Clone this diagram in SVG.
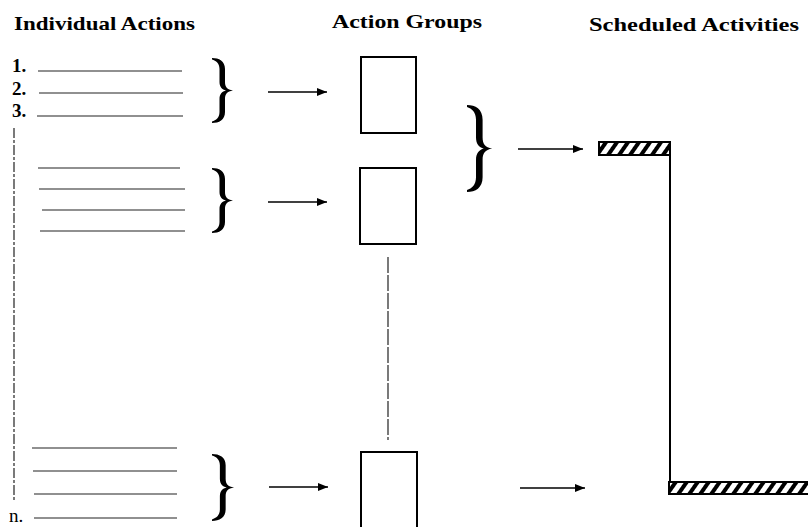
<svg xmlns="http://www.w3.org/2000/svg" width="808" height="527" viewBox="0 0 808 527">
<style>
.title{font-family:"Liberation Serif","Times New Roman",serif;font-weight:bold;font-size:19px;fill:#000}
.num{font-family:"Liberation Serif","Times New Roman",serif;font-size:19px;fill:#000}
.item{stroke:#222;stroke-width:1.1;fill:none}
.box{fill:#fff;stroke:#000;stroke-width:2}
.brace{fill:#000}
.arrow{stroke:#000;stroke-width:1.5;fill:none;marker-end:url(#ah)}
.guide{stroke:#222;stroke-width:1.2;fill:none;stroke-dasharray:10 2 3 2}
.guide2{stroke:#222;stroke-width:1.2;fill:none;stroke-dasharray:16 2}
.bar{fill:url(#hatch);stroke:#000;stroke-width:2}
.post{stroke:#000;stroke-width:2;fill:none}
</style>
<defs>
<marker id="ah" viewBox="0 0 10 8" refX="10" refY="4" markerWidth="10" markerHeight="8" markerUnits="userSpaceOnUse" orient="auto">
<path d="M0,0 L10,4 L0,8 Z" fill="#000"/>
</marker>
<pattern id="hatch" width="9" height="9" patternUnits="userSpaceOnUse" patternTransform="rotate(35)">
<rect width="9" height="9" fill="#fff"/>
<rect width="4" height="9" fill="#000"/>
</pattern>
<path id="br" d="M0,0 C7,0 13,3 13,11 L13,24 C13,29 15,31.5 21,32.5 C15,33.5 13,36 13,41 L13,54 C13,62 7,65 0,65 L0,63.5 C4,62.5 7.5,59.5 7.5,54 L7.5,41 C7.5,36 10,33.5 14,32.5 C10,31.5 7.5,29 7.5,24 L7.5,11 C7.5,5.5 4,2.5 0,1.5 Z"/>
</defs>
<rect width="808" height="527" fill="#fff"/>

<g id="headers">
<text class="title" x="14" y="30" textLength="181" lengthAdjust="spacingAndGlyphs">Individual Actions</text>
<text class="title" x="332" y="28" textLength="150" lengthAdjust="spacingAndGlyphs">Action Groups</text>
<text class="title" x="589" y="31" textLength="210" lengthAdjust="spacingAndGlyphs">Scheduled Activities</text>
</g>

<g id="actions-1">
<text class="num" x="12" y="72" font-weight="bold">1.</text>
<text class="num" x="12" y="95" font-weight="bold">2.</text>
<text class="num" x="12" y="117" font-weight="bold">3.</text>
<line class="item" x1="38" y1="71" x2="182" y2="71"/>
<line class="item" x1="39" y1="93" x2="183" y2="93"/>
<line class="item" x1="37" y1="116" x2="183" y2="116"/>
</g>

<g id="actions-2">
<line class="item" x1="38" y1="168" x2="180" y2="168"/>
<line class="item" x1="39" y1="189" x2="185" y2="189"/>
<line class="item" x1="42" y1="210" x2="185" y2="210"/>
<line class="item" x1="40" y1="231" x2="185" y2="231"/>
</g>

<g id="actions-n">
<line class="item" x1="32" y1="448" x2="177" y2="448"/>
<line class="item" x1="33" y1="471" x2="177" y2="471"/>
<line class="item" x1="34" y1="494" x2="177" y2="494"/>
<line class="item" x1="34" y1="518" x2="177" y2="518"/>
<text class="num" x="9" y="522">n.</text>
</g>

<g id="brace-1"><use href="#br" class="brace" transform="translate(212,58)"/></g>
<g id="brace-2"><use href="#br" class="brace" transform="translate(212,168)"/></g>
<g id="brace-n"><use href="#br" class="brace" transform="translate(212,454) scale(1.05,1.03)"/></g>
<g id="brace-groups"><use href="#br" class="brace" transform="translate(467,105) scale(1.2,1.34)"/></g>

<g id="group-1"><rect class="box" x="361" y="57" width="55" height="76"/></g>
<g id="group-2"><rect class="box" x="360" y="168" width="56" height="76"/></g>
<g id="group-n"><rect class="box" x="361" y="452" width="56" height="90"/></g>

<g id="activity-1">
<rect class="bar" x="599" y="142" width="71" height="13"/>
</g>
<g id="activity-2">
<rect class="bar" x="669" y="482" width="145" height="12"/>
</g>

<g id="connectors">
<line class="guide" x1="14" y1="128" x2="14" y2="500"/>
<line class="guide2" x1="388" y1="257" x2="388" y2="440"/>
<line class="post" x1="670" y1="155" x2="670" y2="482"/>
<line class="arrow" x1="268" y1="92" x2="327" y2="92"/>
<line class="arrow" x1="268" y1="202" x2="327" y2="202"/>
<line class="arrow" x1="269" y1="487" x2="328" y2="487"/>
<line class="arrow" x1="518" y1="149" x2="583" y2="149"/>
<line class="arrow" x1="520" y1="488" x2="585" y2="488"/>
</g>
</svg>
